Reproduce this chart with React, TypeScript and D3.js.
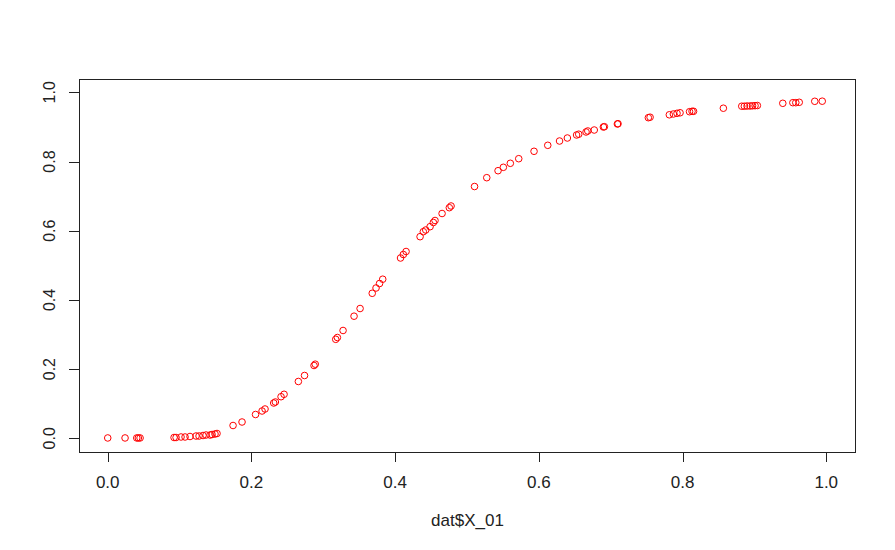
import React from "react";
import * as d3 from "d3";

const xValues: number[] = [
  0.0, 0.0241, 0.0404, 0.0426, 0.045,
  0.0923, 0.0951, 0.102, 0.1076, 0.1145, 0.1229, 0.1271, 0.1326, 0.1368, 0.1424, 0.1452, 0.1493, 0.1521,
  0.1744, 0.1869, 0.2057, 0.2148, 0.2189, 0.231, 0.2333, 0.2412, 0.2454, 0.2653, 0.2739, 0.2871, 0.2888,
  0.3173, 0.3196, 0.3275, 0.3428, 0.3512, 0.3681, 0.3734, 0.3783, 0.3827,
  0.4075, 0.4114, 0.4152, 0.4347, 0.4392, 0.4426, 0.4486, 0.4532, 0.4555, 0.4653, 0.4754, 0.4778,
  0.5105, 0.5275, 0.5432, 0.5506, 0.5603, 0.572, 0.5933, 0.6124, 0.6288, 0.6397, 0.6525, 0.6555, 0.6657, 0.6681, 0.6771,
  0.6898, 0.6912, 0.7093, 0.7102, 0.7524, 0.7548, 0.7816, 0.7872, 0.7923, 0.7965, 0.8097, 0.8132, 0.8153,
  0.8568, 0.8824, 0.886, 0.8898, 0.894, 0.8974, 0.9009, 0.9041, 0.9395, 0.9535, 0.9576, 0.9624, 0.984, 0.9944,
];

const yValues: number[] = [
  0.001, 0.001, 0.001, 0.001, 0.001,
  0.0023, 0.0023, 0.0038, 0.0038, 0.0052, 0.0066, 0.0066, 0.0081, 0.0095, 0.0095, 0.011, 0.0124, 0.0139,
  0.037, 0.0471, 0.0688, 0.0789, 0.0847, 0.102, 0.1049, 0.1202, 0.1272, 0.1642, 0.1815, 0.2104, 0.2142,
  0.2861, 0.2913, 0.3116, 0.3529, 0.3751, 0.4191, 0.4344, 0.4474, 0.4598,
  0.5211, 0.5312, 0.5399, 0.5827, 0.5971, 0.602, 0.6116, 0.6237, 0.6295, 0.6497, 0.6665, 0.6714,
  0.7277, 0.7532, 0.7734, 0.7832, 0.7948, 0.8081, 0.8295, 0.8468, 0.8592, 0.8679, 0.8766, 0.8789, 0.8853, 0.8882, 0.891,
  0.8997, 0.9006, 0.9084, 0.9092, 0.9266, 0.928, 0.935, 0.9373, 0.9393, 0.9408, 0.9439, 0.9451, 0.9451,
  0.954, 0.9598, 0.9598, 0.9604, 0.9604, 0.961, 0.9613, 0.9618, 0.9682, 0.97, 0.97, 0.9711, 0.974, 0.9743,
];

const xTicks: number[] = [0, 0.2, 0.4, 0.6, 0.8, 1.0];
const yTicks: number[] = [0, 0.2, 0.4, 0.6, 0.8, 1.0];
const xLabel = "dat$X_01";

export default function App() {
  const W = 895;
  const H = 550;
  const box = { left: 79, right: 855, top: 79, bottom: 452 };
  const x = d3.scaleLinear().domain([-0.04, 1.04]).range([box.left, box.right]);
  const y = d3.scaleLinear().domain([0, 1]).range([438.3, 92.3]);
  const fmt = d3.format(".1f");
  const data = xValues.map((v, i) => ({ x: v, y: yValues[i] }));
  const axisColor = "#222";

  return (
    <svg
      width={W}
      height={H}
      style={{ position: "absolute", left: 0, top: 0, display: "block", background: "#fff" }}
      fontFamily="'Liberation Sans', Arial, sans-serif"
    >
      <rect x={0} y={0} width={W} height={H} fill="#fff" />
      {/* plot box */}
      <rect
        x={box.left + 0.5}
        y={box.top + 0.5}
        width={box.right - box.left}
        height={box.bottom - box.top}
        fill="none"
        stroke={axisColor}
        strokeWidth={1}
      />
      {/* x axis */}
      <line
        x1={x(xTicks[0])}
        x2={x(xTicks[xTicks.length - 1])}
        y1={box.bottom + 0.5}
        y2={box.bottom + 0.5}
        stroke={axisColor}
      />
      {xTicks.map((t) => (
        <g key={"xt" + t}>
          <line
            x1={Math.round(x(t)) + 0.5}
            x2={Math.round(x(t)) + 0.5}
            y1={box.bottom}
            y2={box.bottom + 10}
            stroke={axisColor}
          />
          <text x={x(t)} y={488} textAnchor="middle" fontSize={17} fill="#222">
            {fmt(t)}
          </text>
        </g>
      ))}
      {/* y axis */}
      <line
        x1={box.left + 0.5}
        x2={box.left + 0.5}
        y1={y(yTicks[0])}
        y2={y(yTicks[yTicks.length - 1])}
        stroke={axisColor}
      />
      {yTicks.map((t) => (
        <g key={"yt" + t}>
          <line
            x1={box.left - 10}
            x2={box.left}
            y1={Math.round(y(t)) + 0.5}
            y2={Math.round(y(t)) + 0.5}
            stroke={axisColor}
          />
          <text
            transform={`translate(55,${y(t)}) rotate(-90)`}
            textAnchor="middle"
            fontSize={16}
            fill="#222"
          >
            {fmt(t)}
          </text>
        </g>
      ))}
      <text x={(box.left + box.right) / 2 + 0.5} y={526} textAnchor="middle" fontSize={17} fill="#222">
        {xLabel}
      </text>
      {data.map((d, i) => (
        <circle key={i} cx={x(d.x)} cy={y(d.y)} r={3.3} fill="none" stroke="#ff0000" strokeWidth={1} />
      ))}
    </svg>
  );
}
